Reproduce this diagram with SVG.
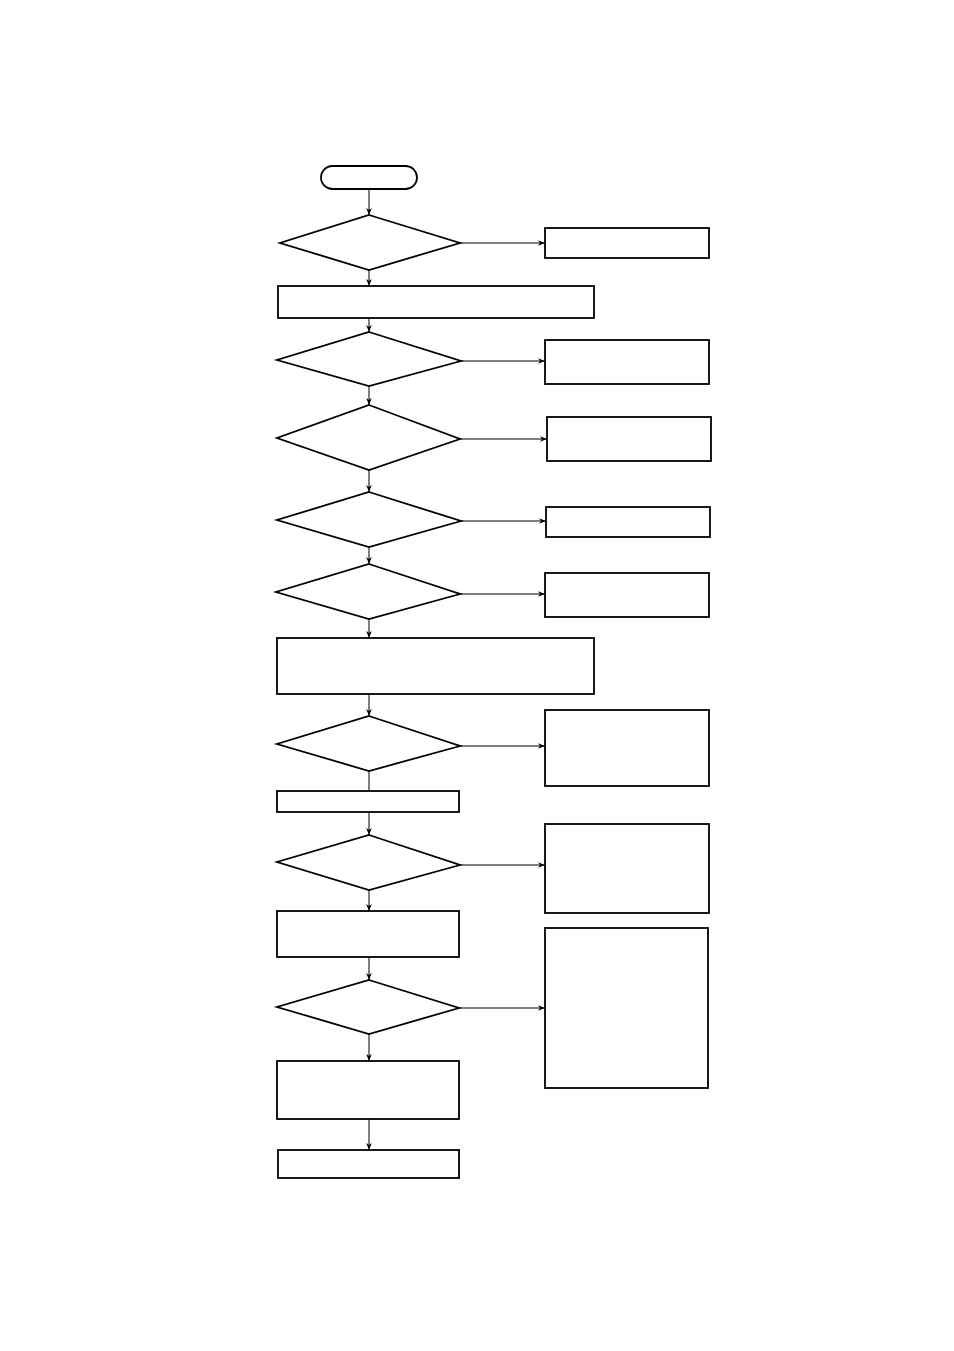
<svg xmlns="http://www.w3.org/2000/svg" width="954" height="1351" viewBox="0 0 954 1351">
<defs>
<style>
.n{fill:#fff;stroke:#000;stroke-width:1.8}
.c{fill:none;stroke:#000;stroke-width:1}
</style>
<marker id="ah" viewBox="0 0 10 10" refX="10" refY="5" markerWidth="7" markerHeight="7" markerUnits="userSpaceOnUse" orient="auto">
<path d="M0,1 L10,5 L0,9 L3,5 Z" fill="#000"/>
</marker>
</defs>
<rect width="954" height="1351" fill="#fff"/>
<g id="connectors">
<line class="c" x1="369" y1="189" x2="369" y2="215" marker-end="url(#ah)"/>
<line class="c" x1="460" y1="243" x2="545" y2="243" marker-end="url(#ah)"/>
<line class="c" x1="369" y1="270" x2="369" y2="286" marker-end="url(#ah)"/>
<line class="c" x1="369" y1="318" x2="369" y2="332" marker-end="url(#ah)"/>
<line class="c" x1="461" y1="361" x2="545" y2="361" marker-end="url(#ah)"/>
<line class="c" x1="369" y1="386" x2="369" y2="405" marker-end="url(#ah)"/>
<line class="c" x1="460" y1="439" x2="547" y2="439" marker-end="url(#ah)"/>
<line class="c" x1="369" y1="470" x2="369" y2="492" marker-end="url(#ah)"/>
<line class="c" x1="461" y1="521" x2="546" y2="521" marker-end="url(#ah)"/>
<line class="c" x1="369" y1="547" x2="369" y2="564" marker-end="url(#ah)"/>
<line class="c" x1="460" y1="594" x2="545" y2="594" marker-end="url(#ah)"/>
<line class="c" x1="369" y1="619" x2="369" y2="638" marker-end="url(#ah)"/>
<line class="c" x1="369" y1="694" x2="369" y2="716" marker-end="url(#ah)"/>
<line class="c" x1="460" y1="746" x2="545" y2="746" marker-end="url(#ah)"/>
<line class="c" x1="369" y1="771" x2="369" y2="791"/>
<line class="c" x1="369" y1="812" x2="369" y2="835" marker-end="url(#ah)"/>
<line class="c" x1="460" y1="865" x2="545" y2="865" marker-end="url(#ah)"/>
<line class="c" x1="369" y1="890" x2="369" y2="911" marker-end="url(#ah)"/>
<line class="c" x1="369" y1="957" x2="369" y2="980" marker-end="url(#ah)"/>
<line class="c" x1="459" y1="1008" x2="545" y2="1008" marker-end="url(#ah)"/>
<line class="c" x1="369" y1="1034" x2="369" y2="1061" marker-end="url(#ah)"/>
<line class="c" x1="369" y1="1119" x2="369" y2="1150" marker-end="url(#ah)"/>
</g>
<g id="start"><rect class="n" x="321" y="166" width="96" height="23" rx="11.5"/></g>
<g id="d1"><polygon class="n" points="369,215 460,243 369,270 280,243"/></g>
<g id="r1"><rect class="n" x="545" y="228" width="164" height="30"/></g>
<g id="p1"><rect class="n" x="278" y="286" width="316" height="32"/></g>
<g id="d2"><polygon class="n" points="369,332 461,361 369,386 277,360"/></g>
<g id="r2"><rect class="n" x="545" y="340" width="164" height="44"/></g>
<g id="d3"><polygon class="n" points="369,405 460,439 369,470 277,438"/></g>
<g id="r3"><rect class="n" x="547" y="417" width="164" height="44"/></g>
<g id="d4"><polygon class="n" points="369,492 461,521 369,547 277,520"/></g>
<g id="r4"><rect class="n" x="546" y="507" width="164" height="30"/></g>
<g id="d5"><polygon class="n" points="369,564 460,594 369,619 276,592"/></g>
<g id="r5"><rect class="n" x="545" y="573" width="164" height="44"/></g>
<g id="p2"><rect class="n" x="277" y="638" width="317" height="56"/></g>
<g id="d6"><polygon class="n" points="369,716 460,746 369,771 277,744"/></g>
<g id="r6"><rect class="n" x="545" y="710" width="164" height="76"/></g>
<g id="p3"><rect class="n" x="277" y="791" width="182" height="21"/></g>
<g id="d7"><polygon class="n" points="369,835 460,865 369,890 277,862"/></g>
<g id="r7"><rect class="n" x="545" y="824" width="164" height="89"/></g>
<g id="p4"><rect class="n" x="277" y="911" width="182" height="46"/></g>
<g id="d8"><polygon class="n" points="369,980 459,1008 369,1034 277,1007"/></g>
<g id="r8"><rect class="n" x="545" y="928" width="163" height="160"/></g>
<g id="p5"><rect class="n" x="277" y="1061" width="182" height="58"/></g>
<g id="p6"><rect class="n" x="278" y="1150" width="181" height="28"/></g>
</svg>
